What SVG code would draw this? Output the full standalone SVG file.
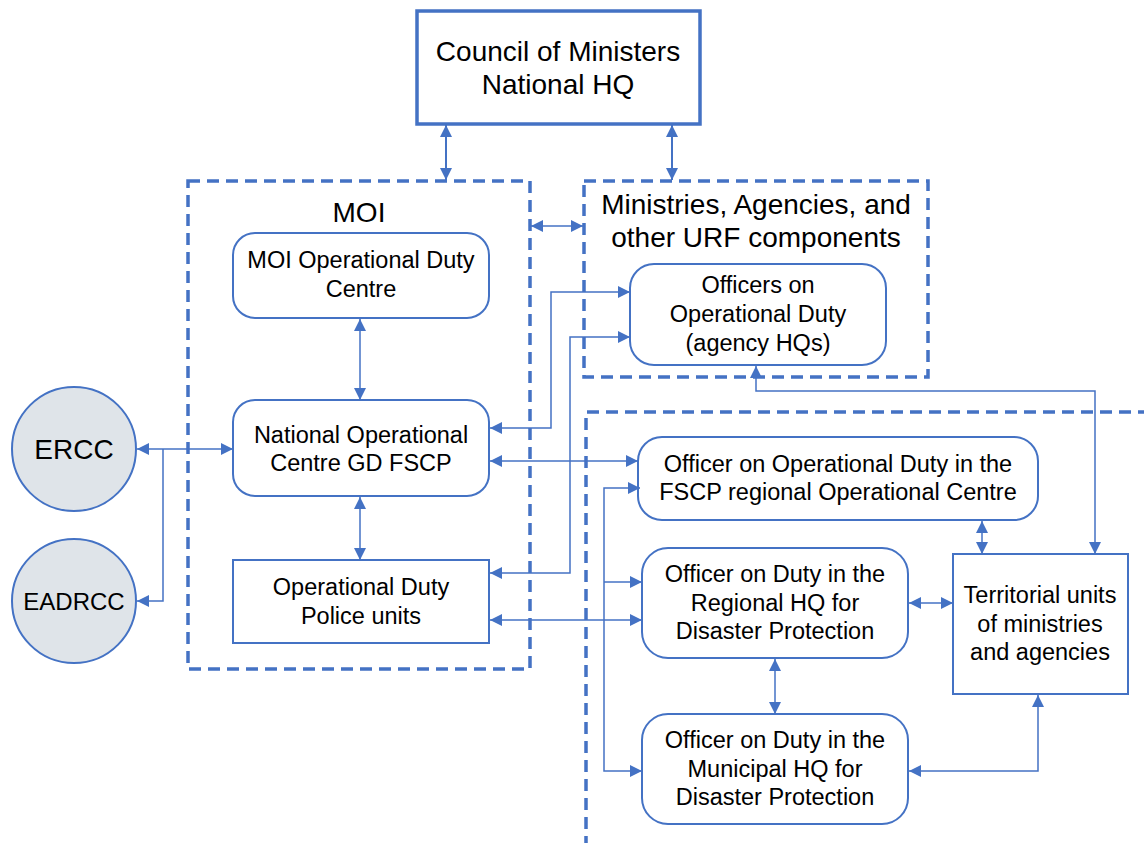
<svg xmlns="http://www.w3.org/2000/svg" width="1144" height="843" viewBox="0 0 1144 843">
<style>
text{font-family:"Liberation Sans",Arial,sans-serif;fill:#000;text-anchor:middle}
.t20{font-size:23.5px}
.t24{font-size:28px}
.box{fill:#fff;stroke:#4472c4;stroke-width:2}
.dash{fill:none;stroke:#4472c4;stroke-width:3.5;stroke-dasharray:12 7}
.c{fill:none;stroke:#4472c4;stroke-width:1.5}
.circ{fill:#dfe4e9;stroke:#4472c4;stroke-width:2}
</style>
<defs>
<marker id="ar" markerUnits="userSpaceOnUse" markerWidth="12" markerHeight="12" viewBox="0 0 10 10" refX="10" refY="5" orient="auto-start-reverse">
<path d="M0,0 L10,5 L0,10 z" fill="#4472c4"/>
</marker>
</defs>
<rect width="1144" height="843" fill="#fff"/>

<g id="groups">
<path class="dash" d="M188,181 H530 V669 H188 Z"/>
<path class="dash" d="M584,181 H928 V377 H584 Z"/>
<path class="dash" d="M1150,412 H586 V850"/>
</g>

<g id="council">
<rect x="417" y="11" width="283" height="113" fill="#fff" stroke="#4472c4" stroke-width="3.5"/>
<text class="t24" x="558" y="61">Council of Ministers</text>
<text class="t24" x="558" y="94">National HQ</text>
</g>

<g id="moi-label"><text class="t24" x="359" y="222">MOI</text></g>
<g id="ministries-label">
<text class="t24" x="756" y="214">Ministries, Agencies, and</text>
<text class="t24" x="756" y="247">other URF components</text>
</g>

<g id="moi-duty">
<rect class="box" x="233" y="233" width="256" height="85" rx="22"/>
<text class="t20" x="361" y="268">MOI Operational Duty</text>
<text class="t20" x="361" y="297">Centre</text>
</g>
<g id="noc">
<rect class="box" x="233" y="400" width="256" height="96" rx="22"/>
<text class="t20" x="361" y="443">National Operational</text>
<text class="t20" x="361" y="471">Centre GD FSCP</text>
</g>
<g id="police">
<rect class="box" x="233" y="560" width="256" height="83"/>
<text class="t20" x="361" y="595">Operational Duty</text>
<text class="t20" x="361" y="624">Police units</text>
</g>
<g id="ercc">
<circle class="circ" cx="74" cy="449" r="62"/>
<text x="74" y="459" style="font-size:28px">ERCC</text>
</g>
<g id="eadrcc">
<circle class="circ" cx="74" cy="601" r="62"/>
<text x="74" y="610" style="font-size:24px">EADRCC</text>
</g>
<g id="officers-agency">
<rect class="box" x="630" y="264" width="256" height="101" rx="24"/>
<text class="t20" x="758" y="293">Officers on</text>
<text class="t20" x="758" y="322">Operational Duty</text>
<text class="t20" x="758" y="351">(agency HQs)</text>
</g>
<g id="fscp-regional">
<rect class="box" x="638" y="437" width="400" height="83" rx="24"/>
<text class="t20" x="838" y="472">Officer on Operational Duty in the</text>
<text class="t20" x="838" y="500">FSCP regional Operational Centre</text>
</g>
<g id="regional-hq">
<rect class="box" x="642" y="548" width="266" height="110" rx="26"/>
<text class="t20" x="775" y="582">Officer on Duty in the</text>
<text class="t20" x="775" y="611">Regional HQ for</text>
<text class="t20" x="775" y="639">Disaster Protection</text>
</g>
<g id="municipal-hq">
<rect class="box" x="642" y="714" width="266" height="110" rx="26"/>
<text class="t20" x="775" y="748">Officer on Duty in the</text>
<text class="t20" x="775" y="777">Municipal HQ for</text>
<text class="t20" x="775" y="805">Disaster Protection</text>
</g>
<g id="territorial">
<rect class="box" x="953" y="554" width="175" height="140"/>
<text class="t20" x="1040" y="603">Territorial units</text>
<text class="t20" x="1040" y="632">of ministries</text>
<text class="t20" x="1040" y="660">and agencies</text>
</g>

<g id="connectors">
<path class="c" style="stroke-width:2" d="M446,125 V180" marker-start="url(#ar)" marker-end="url(#ar)"/>
<path class="c" style="stroke-width:2" d="M672,125 V180" marker-start="url(#ar)" marker-end="url(#ar)"/>
<path class="c" d="M531,226 H583" marker-start="url(#ar)" marker-end="url(#ar)"/>
<path class="c" d="M137,449 H233" marker-start="url(#ar)" marker-end="url(#ar)"/>
<path class="c" d="M163,449 V601 H137" marker-end="url(#ar)"/>
<path class="c" d="M360,319 V400" marker-start="url(#ar)" marker-end="url(#ar)"/>
<path class="c" d="M360,497 V560" marker-start="url(#ar)" marker-end="url(#ar)"/>
<path class="c" d="M490,428 H551 V292 H630" marker-start="url(#ar)" marker-end="url(#ar)"/>
<path class="c" d="M490,573 H570 V337 H630" marker-start="url(#ar)" marker-end="url(#ar)"/>
<path class="c" d="M490,461 H638" marker-start="url(#ar)" marker-end="url(#ar)"/>
<path class="c" d="M490,620 H642" marker-start="url(#ar)" marker-end="url(#ar)"/>
<path class="c" d="M640,488 H604 V771 H642" marker-start="url(#ar)" marker-end="url(#ar)"/>
<path class="c" d="M604,582 H642" marker-end="url(#ar)"/>
<path class="c" d="M756,366 V391 H1095 V554" marker-start="url(#ar)" marker-end="url(#ar)"/>
<path class="c" d="M982,521 V554" marker-start="url(#ar)" marker-end="url(#ar)"/>
<path class="c" d="M909,603 H953" marker-start="url(#ar)" marker-end="url(#ar)"/>
<path class="c" d="M775,659 V714" marker-start="url(#ar)" marker-end="url(#ar)"/>
<path class="c" d="M909,771 H1038 V695" marker-start="url(#ar)" marker-end="url(#ar)"/>
</g>
</svg>
